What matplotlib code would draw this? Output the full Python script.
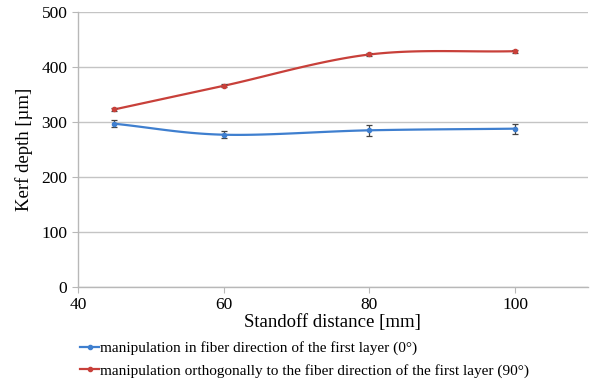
import numpy as np
import matplotlib.pyplot as plt
from matplotlib.lines import Line2D

standoff = [45, 60, 80, 100]
depth_0 = [297, 277, 285, 288]
err_0 = [6, 6, 10, 9]
depth_90 = [323, 366, 423, 429]
err_90 = [3, 3, 3, 3]

label_0 = "manipulation in fiber direction of the first layer (0°)"
label_90 = "manipulation orthogonally to the fiber direction of the first layer (90°)"

blue = "#3f7fcf"
red = "#c8403a"


def smooth(x, y, n=40):
    # Catmull-Rom through the points, like Excel's smoothed lines
    x = np.asarray(x, float); y = np.asarray(y, float)
    px = np.concatenate([[2 * x[0] - x[1]], x, [2 * x[-1] - x[-2]]])
    py = np.concatenate([[2 * y[0] - y[1]], y, [2 * y[-1] - y[-2]]])
    xs, ys = [], []
    t = np.linspace(0, 1, n)
    for i in range(1, len(px) - 2):
        for p, out in ((px, xs), (py, ys)):
            p0, p1, p2, p3 = p[i - 1], p[i], p[i + 1], p[i + 2]
            out.append(0.5 * (2 * p1 + (-p0 + p2) * t
                              + (2 * p0 - 5 * p1 + 4 * p2 - p3) * t ** 2
                              + (-p0 + 3 * p1 - 3 * p2 + p3) * t ** 3))
    return np.concatenate(xs), np.concatenate(ys)


plt.rcParams["font.family"] = ["Liberation Serif", "DejaVu Serif"]

fig = plt.figure(figsize=(5.94, 3.81), dpi=100)
ax = fig.add_axes([0.131, 0.247, 0.859, 0.721])

for y, e, c in ((depth_0, err_0, blue), (depth_90, err_90, red)):
    sx, sy = smooth(standoff, y)
    ax.plot(sx, sy, color=c, lw=1.6, zorder=3)
    ax.errorbar(standoff, y, yerr=e, fmt="o", ms=3, color=c,
                ecolor="#444444", elinewidth=0.9, capsize=2, capthick=0.9, zorder=4)

ax.set_xlim(40, 110)
ax.set_ylim(0, 500)
ax.set_xticks([40, 60, 80, 100])
ax.set_yticks(range(0, 501, 100))
ax.grid(axis="y", color="#c4c4c4", lw=1)
ax.set_axisbelow(True)
for s in ("top", "right"):
    ax.spines[s].set_visible(False)
for s in ("left", "bottom"):
    ax.spines[s].set_color("#b8b8b8")
    ax.spines[s].set_linewidth(1)
ax.tick_params(axis="both", colors="#b8b8b8", labelcolor="black", labelsize=12.5, length=4)
ax.tick_params(axis="x", pad=3)
ax.set_xlabel("Standoff distance [mm]", fontsize=13.5)
ax.set_ylabel("Kerf depth [µm]", fontsize=13.5, labelpad=6)
ax.xaxis.set_label_coords(0.5, -0.1)

handles = [Line2D([], [], color=blue, lw=1.6, marker="o", ms=3),
           Line2D([], [], color=red, lw=1.6, marker="o", ms=3)]
fig.legend(handles, [label_0, label_90], loc="upper left", bbox_to_anchor=(0.125, 0.12),
           frameon=False, fontsize=11, handlelength=1.2, handletextpad=0.1,
           labelspacing=0.55, borderaxespad=0)

fig.savefig("out.png", dpi=100)
